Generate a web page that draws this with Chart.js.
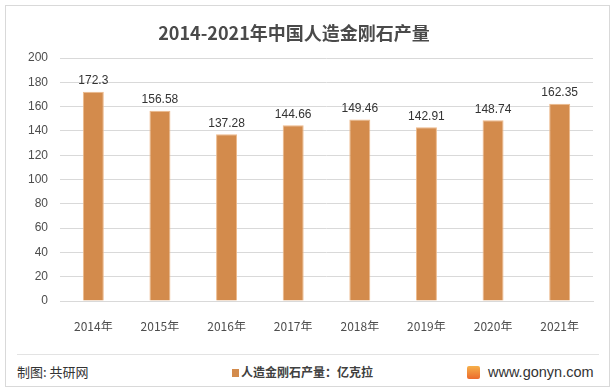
<!DOCTYPE html>
<html>
<head>
<meta charset="utf-8">
<script src="https://cdn.jsdelivr.net/npm/chart.js@4/dist/chart.umd.min.js"></script>
<style>
  body { margin: 0; background: #fff; font-family: "Noto Sans CJK SC", "Liberation Sans", sans-serif; }
  #wrap { position: relative; width: 615px; height: 390px; }
  #frame { position: absolute; left: 5px; top: 5px; width: 603px; height: 380px; border: 1px solid #d9d9d9; }
  #chart { position: absolute; left: 0; top: 0; }
  #title { position: absolute; left: 0; width: 588px; top: 19px; text-align: center; font-size: 18px; font-weight: bold; color: #4a4a4a; }
  #sep { position: absolute; left: 17px; width: 582px; top: 354px; border-top: 1px solid #e3e3e3; }
  .foot { position: absolute; top: 363px; font-size: 13px; color: #333; line-height: 18px; }
  #src { left: 17px; }
  #legend { left: 232px; font-weight: bold; color: #404040; font-size: 12px; }
  #legend i { display: inline-block; width: 7px; height: 8px; background: #D38B4C; margin-right: 2px; }
  #site { left: 467px; font-family: "Liberation Sans", Arial, sans-serif; font-size: 14.5px; color: #333; }
  #site b { display: inline-block; width: 13px; height: 13px; background: linear-gradient(#f6b04a, #ec6a2c); margin-right: 8px; vertical-align: -2px; border-radius: 2px; }
</style>
</head>
<body>
<div id="wrap">
  <div id="frame"></div>
  <canvas id="chart" width="615" height="345"></canvas>
  <div id="title">2014-2021年中国人造金刚石产量</div>
  <div id="sep"></div>
  <div class="foot" id="src">制图: 共研网</div>
  <div class="foot" id="legend"></div>
  <div class="foot" id="site"><b></b>www.gonyn.com</div>
</div>
<script>
const years = ['2014年', '2015年', '2016年', '2017年', '2018年', '2019年', '2020年', '2021年'];
const output = [172.3, 156.58, 137.28, 144.66, 149.46, 142.91, 148.74, 162.35];
const seriesName = '人造金刚石产量：亿克拉';

document.getElementById('legend').innerHTML = `<i></i>${seriesName}`;

const valueLabels = {
    id: 'valueLabels',
    afterDatasetsDraw(chart) {
        const ctx = chart.ctx;
        const meta = chart.getDatasetMeta(0);
        ctx.save();
        ctx.font = '12px "Liberation Sans", "Noto Sans", sans-serif';
        ctx.fillStyle = '#333333';
        ctx.textAlign = 'center';
        ctx.textBaseline = 'bottom';
        meta.data.forEach((bar, i) => {
            ctx.fillText(output[i], bar.x, bar.y - 5);
        });
        ctx.restore();
    }
};

new Chart(document.getElementById('chart'), {
    type: 'bar',
    data: {
        labels: years,
        datasets: [{
            label: seriesName,
            data: output,
            backgroundColor: '#D38B4C',
            borderColor: '#EDB98A',
            borderWidth: 1,
            barPercentage: 0.63,
            categoryPercentage: 0.5
        }]
    },
    options: {
        responsive: false,
        animation: false,
        layout: { padding: { top: 58, right: 22, bottom: 14, left: 0 } },
        plugins: { legend: { display: false }, tooltip: { enabled: false } },
        scales: {
            x: {
                grid: { display: false },
                border: { color: '#d9d9d9' },
                ticks: { color: '#4d4d4d', padding: 10, font: { size: 12, family: '"Noto Sans CJK SC", sans-serif' } },
                afterFit(s) { s.height = 30; }
            },
            y: {
                min: 0,
                max: 200,
                ticks: { stepSize: 20, color: '#4d4d4d', padding: 12, font: { size: 12, family: '"Liberation Sans", sans-serif' } },
                grid: { color: '#d9d9d9', drawTicks: false },
                border: { display: false },
                afterFit(s) { s.width = 60; }
            }
        }
    },
    plugins: [valueLabels]
});
</script>
</body>
</html>
